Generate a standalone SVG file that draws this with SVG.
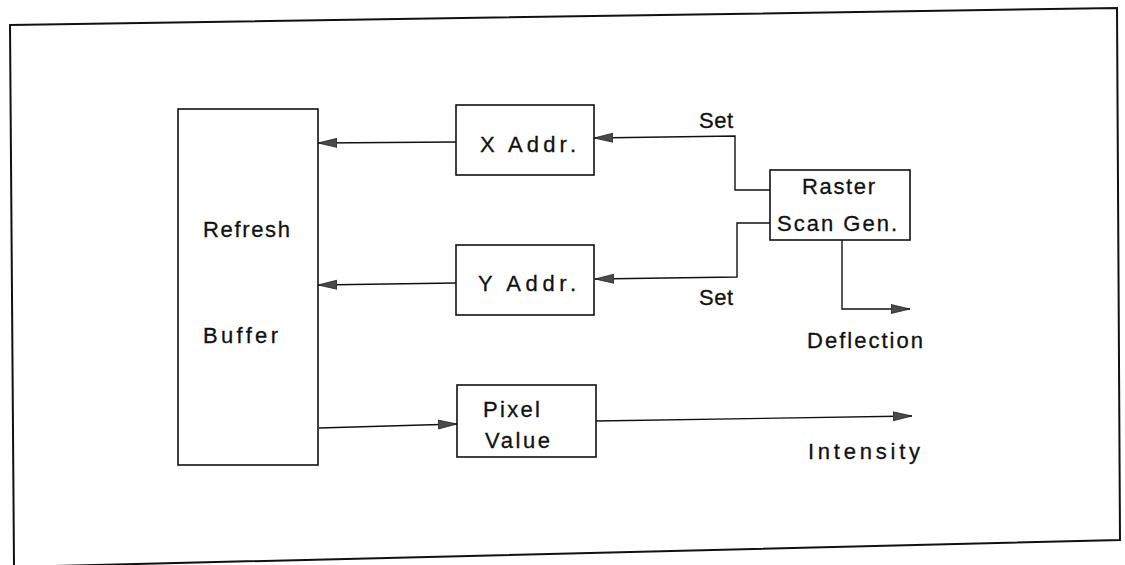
<svg xmlns="http://www.w3.org/2000/svg" width="1125" height="565" viewBox="0 0 1125 565">
<defs>
<style>
.box{fill:#fff;stroke:#111;stroke-width:1.6}
.frame{fill:none;stroke:#111;stroke-width:2}
.wire{fill:none;stroke:#111;stroke-width:1.4}
.lbl{font-family:"Liberation Sans",Arial,sans-serif;font-size:22px;fill:#111;stroke:#111;stroke-width:0.3}
</style>
<marker id="arr" markerUnits="userSpaceOnUse" markerWidth="22" markerHeight="12" refX="19" refY="6" orient="auto">
<path d="M0,1.5 L19,6 L0,10.5 Z" fill="#4a4a4a" stroke="#222" stroke-width="0.8"/>
</marker>
</defs>
<rect width="1125" height="565" fill="#fff"/>
<polygon class="frame" points="10,25 1117,8 1120,540 14,567"/>

<g id="connectors">
<line class="wire" x1="456" y1="142" x2="318" y2="143" marker-end="url(#arr)"/>
<line class="wire" x1="456" y1="283" x2="318" y2="285" marker-end="url(#arr)"/>
<polyline class="wire" points="770,190 735,190 735,136 594,138" marker-end="url(#arr)"/>
<polyline class="wire" points="770,223 737,223 737,277 595,279" marker-end="url(#arr)"/>
<polyline class="wire" points="842,240 842,309 910,309" marker-end="url(#arr)"/>
<line class="wire" x1="319" y1="428" x2="457" y2="424" marker-end="url(#arr)"/>
<line class="wire" x1="596" y1="421" x2="912" y2="416" marker-end="url(#arr)"/>
<text class="lbl" x="699" y="128" textLength="34" lengthAdjust="spacing">Set</text>
<text class="lbl" x="699" y="305" textLength="34" lengthAdjust="spacing">Set</text>
<text class="lbl" x="807" y="348" textLength="116" lengthAdjust="spacing">Deflection</text>
<text class="lbl" x="808" y="459" textLength="112" lengthAdjust="spacing">Intensity</text>
</g>

<g id="refresh-buffer">
<rect class="box" x="178" y="109" width="140" height="356"/>
<text class="lbl" x="203" y="237" textLength="87" lengthAdjust="spacing">Refresh</text>
<text class="lbl" x="203" y="343" textLength="75" lengthAdjust="spacing">Buffer</text>
</g>

<g id="x-addr">
<rect class="box" x="456" y="105" width="138" height="70"/>
<text class="lbl" x="480" y="152" textLength="96" lengthAdjust="spacing">X Addr.</text>
</g>

<g id="y-addr">
<rect class="box" x="456" y="245" width="138" height="70"/>
<text class="lbl" x="478" y="291" textLength="98" lengthAdjust="spacing">Y Addr.</text>
</g>

<g id="raster-scan-gen">
<rect class="box" x="770" y="170" width="140" height="70"/>
<text class="lbl" x="802" y="194" textLength="73" lengthAdjust="spacing">Raster</text>
<text class="lbl" x="777" y="231" textLength="120" lengthAdjust="spacing">Scan Gen.</text>
</g>

<g id="pixel-value">
<rect class="box" x="457" y="385" width="139" height="72"/>
<text class="lbl" x="483" y="417" textLength="57" lengthAdjust="spacing">Pixel</text>
<text class="lbl" x="485" y="448" textLength="65" lengthAdjust="spacing">Value</text>
</g>
</svg>
